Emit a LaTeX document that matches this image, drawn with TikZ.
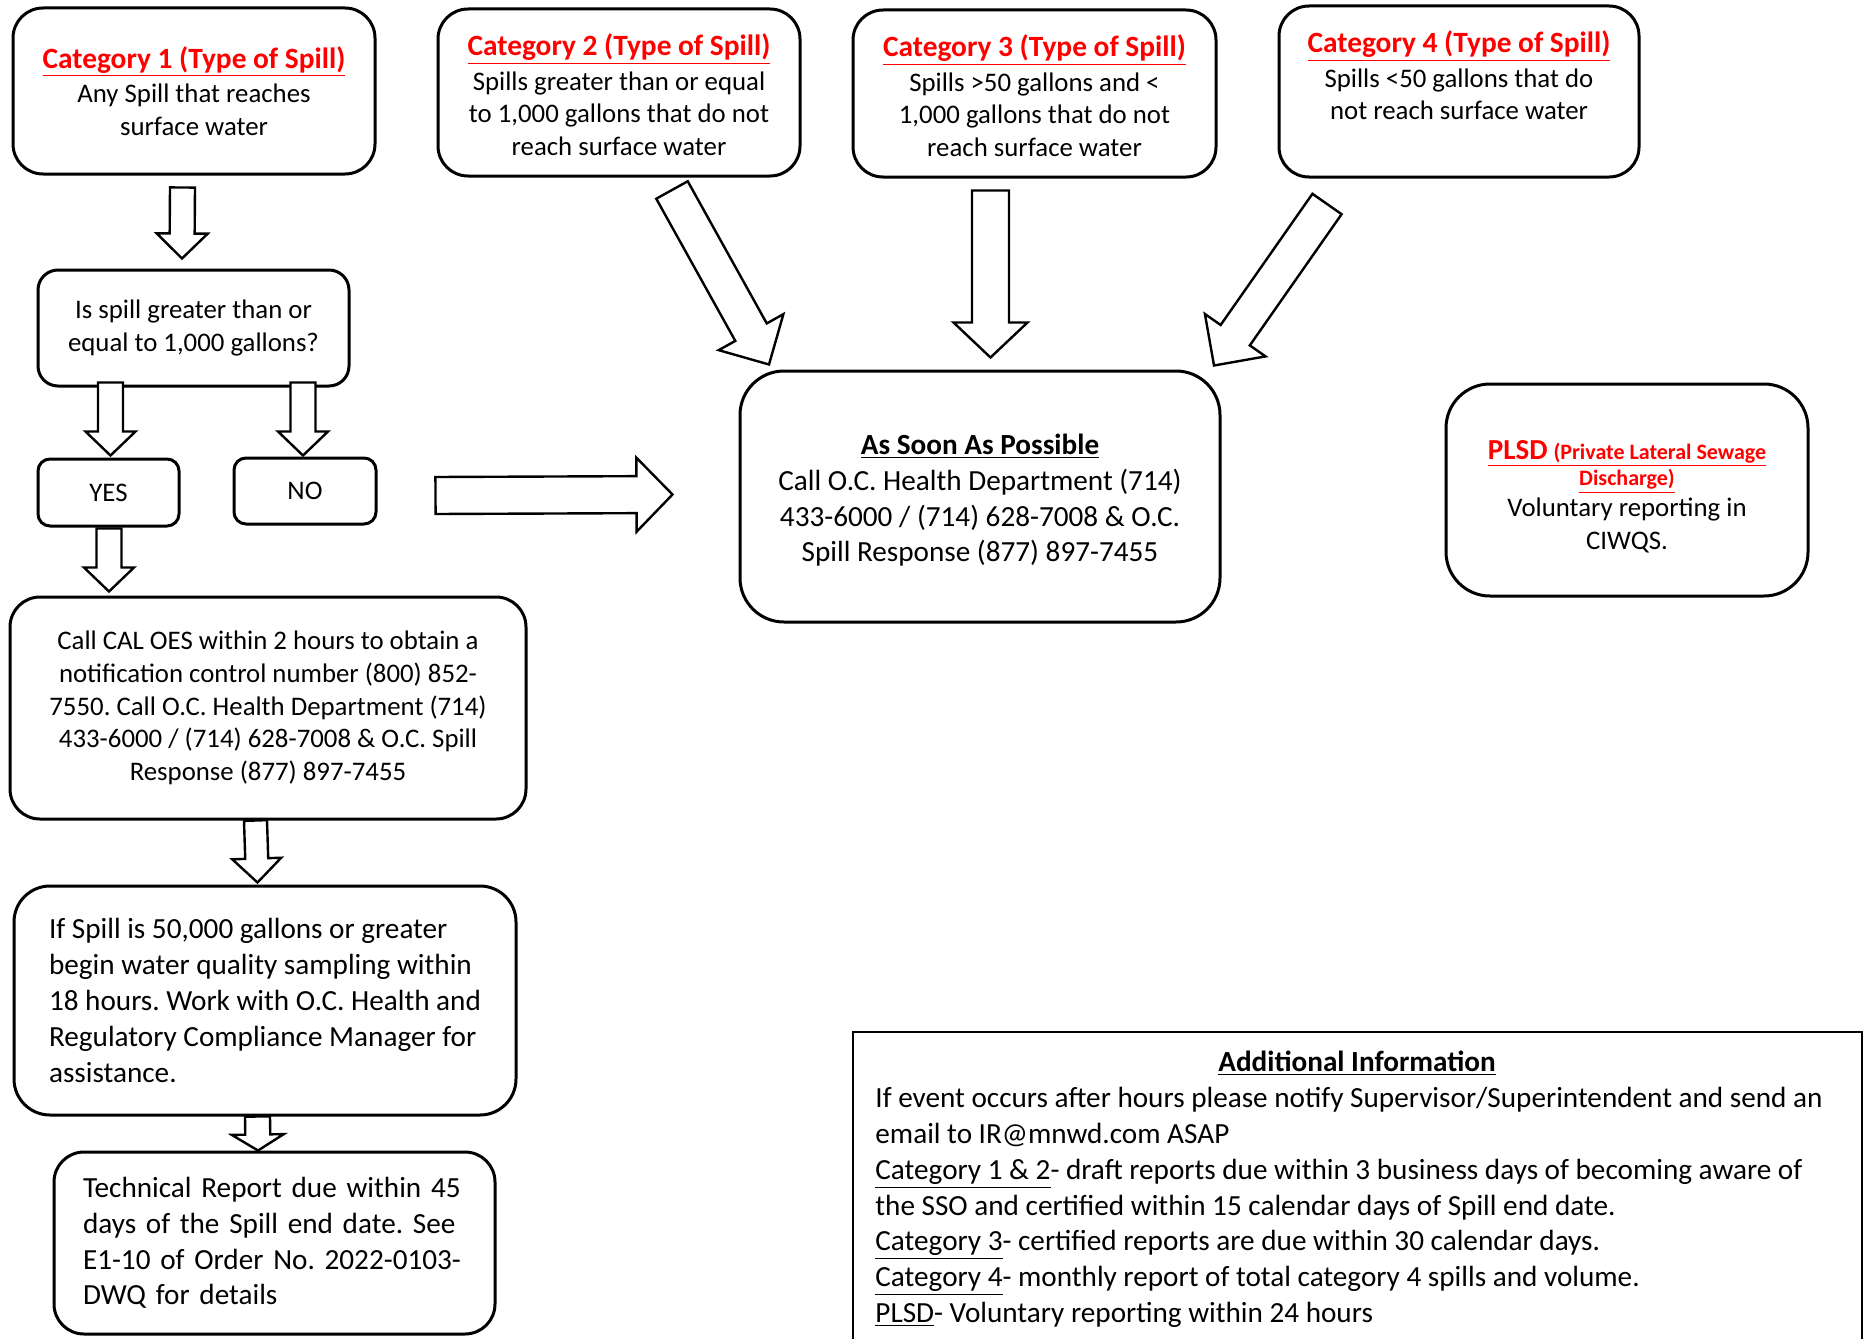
\documentclass[tikz,border=0pt]{standalone}
\usepackage{fontspec}
\setmainfont{Carlito}
\usetikzlibrary{calc}
\frenchspacing

\tikzset{
  box/.style={draw, line width=1.5pt, rounded corners=15pt, inner sep=0pt, align=center,
    font=\fontsize{13.4}{16.4}\selectfont},
  bigbox/.style={box, rounded corners=22pt, font=\fontsize{14.6}{17.9}\selectfont},
  blockarr/.style={draw, line width=1.2pt, fill=white},
}
\newcommand{\cattitle}[1]{\textcolor{red}{\fontsize{14.7}{17}\selectfont\bfseries\underline{#1}}}
% shaft half width, head half width, head length, tail, tip
\newcommand{\blockarrow}[5]{%
  \coordinate (ba-t) at #4;
  \coordinate (ba-p) at #5;
  \coordinate (ba-b) at ($(ba-p)!#3!(ba-t)$);
  \draw[blockarr] ($(ba-t)!#1!90:(ba-p)$) -- ($(ba-b)!#1!90:(ba-p)$) -- ($(ba-b)!#2!90:(ba-p)$) -- (ba-p)
    -- ($(ba-b)!#2!-90:(ba-p)$) -- ($(ba-b)!#1!-90:(ba-p)$) -- ($(ba-t)!#1!-90:(ba-p)$) -- cycle;
}

\begin{document}
\begin{tikzpicture}[x=0.5pt,y=-0.5pt]

% \draw [red] (0,0) grid [step=100] (1866,1338);
\useasboundingbox (0,0) rectangle (1866,1338);
\clip (0,0) rectangle (1866,1338);

% categories
\node[box, minimum width=181pt, minimum height=83pt] (cat1) at (194,91) {\cattitle{Category 1 (Type of Spill)}\\[1pt] Any Spill that reaches\\ surface water};
\node[box, minimum width=181pt, minimum height=83.5pt] (cat2) at (619,92.5) {\rule{0pt}{13pt}\cattitle{Category 2 (Type of Spill)}\\[1pt] Spills greater than or equal\\ to 1,000 gallons that do not\\ reach surface water};
\node[box, minimum width=181.5pt, minimum height=83.5pt] (cat3) at (1034.5,93.5) {\rule{0pt}{13pt}\cattitle{Category 3 (Type of Spill)}\\[1pt] Spills >50 gallons and <\\ 1,000 gallons that do not\\ reach surface water};
\node[box, minimum width=180pt, minimum height=85.5pt] (cat4) at (1459,91.5) {\cattitle{Category 4 (Type of Spill)}\\[1pt] Spills <50 gallons that do\\ not reach surface water\\ \mbox{}};

% left column
\node[box, rounded corners=10pt, minimum width=155.5pt, minimum height=58pt] (decision) at (193.5,328) {Is spill greater than or\\ equal to 1,000 gallons?};
\node[box, rounded corners=6pt, minimum width=70.5pt, minimum height=33.5pt] (yes) at (108.5,492.5) {YES};
\node[box, rounded corners=6pt, minimum width=71pt, minimum height=33pt] (no) at (305,491) {NO};
\node[box, minimum width=258pt, minimum height=111pt] (cal) at (268,708) {Call CAL OES within 2 hours to obtain a\\ notification control number (800) 852-\\ 7550. Call O.C. Health Department (714)\\ 433-6000 / (714) 628-7008 \& O.C. Spill\\ Response (877) 897-7455};
\node[bigbox, rounded corners=18pt, minimum width=251pt, minimum height=114.5pt, align=left] (ifspill) at (265,1000.5) {If Spill is 50,000 gallons or greater\\ begin water quality sampling within\\ 18 hours. Work with O.C. Health and\\ Regulatory Compliance Manager for\\ assistance.};
\node[bigbox, rounded corners=15pt, minimum width=220.5pt, minimum height=91pt, text width=191.5pt, align=left] (tech) at (274.5,1243) {Technical Report due within 45\\ days of the Spill end date. See\\ E1-10 of Order No. 2022-0103-\\ DWQ for details};

% right side
\node[bigbox, minimum width=240pt, minimum height=125.5pt] (asap) at (980,496.5) {\rule{0pt}{14pt}{\bfseries\underline{As Soon As Possible}}\\ Call O.C. Health Department (714)\\ 433-6000 / (714) 628-7008 \& O.C.\\ Spill Response (877) 897-7455};
\node[box, rounded corners=22pt, minimum width=181pt, minimum height=106pt] (plsd) at (1627,490) {\rule{0pt}{16pt}\textcolor{red}{\bfseries\underline{{\fontsize{14.5}{17}\selectfont PLSD} {\fontsize{11}{13}\selectfont(Private Lateral Sewage}}}\\[-3pt]
  \textcolor{red}{\bfseries\fontsize{11}{13}\selectfont\underline{Discharge)}}\\[-1pt] Voluntary reporting in\\ CIWQS.};

% additional information
\node[draw, line width=1pt, inner sep=0pt, minimum width=504.5pt, minimum height=184pt] (info) at (1357.5,1216) {};
\node[font=\fontsize{14.6}{17.9}\selectfont\bfseries, inner sep=0pt] (infotitle) at (1357,1063) {\underline{Additional Information}};
\node[font=\fontsize{14.6}{17.9}\selectfont, align=left, anchor=north west, inner sep=0pt] (infotext) at (875,1087) {If event occurs after hours please notify Supervisor/Superintendent and send an\\
  email to IR@mnwd.com ASAP\\
  \underline{Category 1 \& 2}- draft reports due within 3 business days of becoming aware of\\
  the SSO and certified within 15 calendar days of Spill end date.\\
  \underline{Category 3}- certified reports are due within 30 calendar days.\\
  \underline{Category 4}- monthly report of total category 4 spills and volume.\\
  \underline{PLSD}- Voluntary reporting within 24 hours};

% block arrows
\blockarrow{6.25pt}{12.75pt}{12.5pt}{([shift={(-11.5,12)}]cat1.south)}{([shift={(-11.5,-10)}]decision.north)}
\blockarrow{6.25pt}{12.5pt}{12pt}{([shift={(2,-75)}]yes.north)}{([shift={(2,-2)}]yes.north)}
\blockarrow{6.25pt}{12.5pt}{12pt}{([shift={(-2,-74)}]no.north)}{([shift={(-2,-1)}]no.north)}
\blockarrow{6.25pt}{12.5pt}{12pt}{([shift={(0.5,1)}]yes.south)}{([shift={(0.5,-4)}]yes.south |- cal.north)}
\blockarrow{5.75pt}{12.25pt}{12pt}{([shift={(-12.5,0)}]cal.south)}{([shift={(-10.5,-2)}]cal.south |- ifspill.north)}
\blockarrow{6.25pt}{13pt}{8pt}{([shift={(-7.5,0)}]ifspill.south)}{([shift={(-7,0)}]ifspill.south |- tech.north)}
\blockarrow{9.25pt}{18.5pt}{18pt}{([shift={(58,4.5)}]no.east)}{([shift={(-66,-2)}]asap.west)}
\blockarrow{9pt}{18.5pt}{18.5pt}{([shift={(53,12.5)}]cat2.south)}{([shift={(-211,-5)}]asap.north)}
\blockarrow{9.25pt}{18.5pt}{17.5pt}{([shift={(-44,12)}]cat3.south)}{([shift={(10.5,-12)}]asap.north)}
\blockarrow{8.9pt}{18.5pt}{18.5pt}{([shift={(-132,25.5)}]cat4.south)}{([shift={(234,-4)}]asap.north)}

\end{tikzpicture}
\end{document}
